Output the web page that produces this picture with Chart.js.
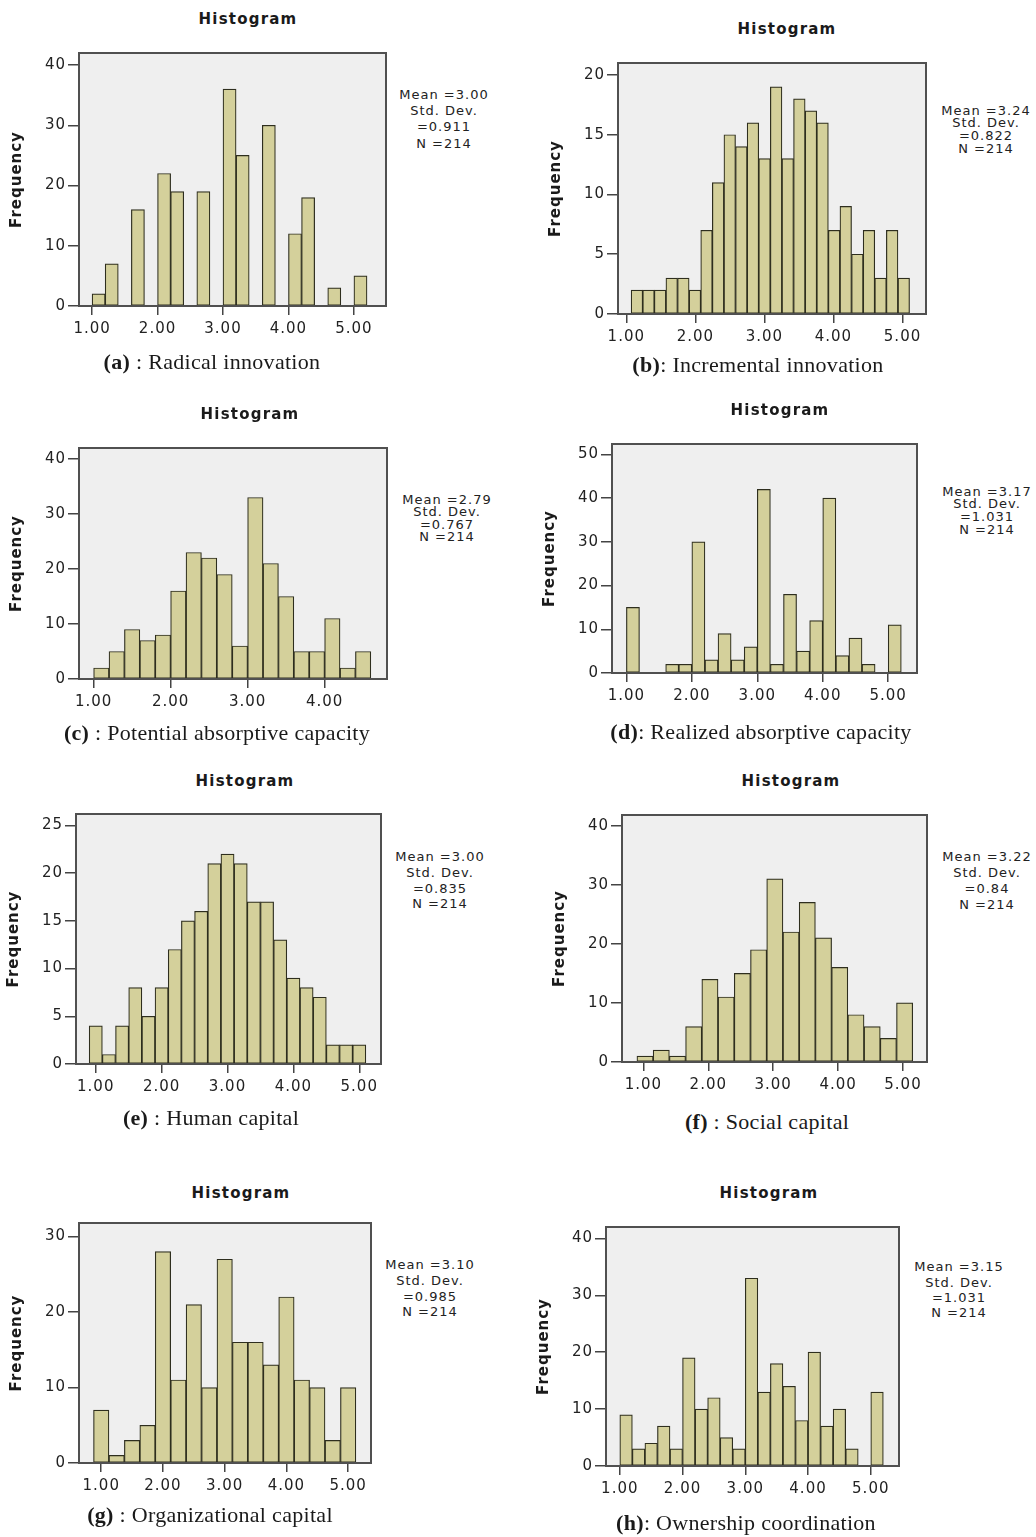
<!DOCTYPE html>
<html lang="en">
<head>
<meta charset="UTF-8" />
<title>Histograms</title>
<script src="https://cdn.jsdelivr.net/npm/chart.js"></script>
<style>
  body { margin: 0; background: #fff; }
  #page { position: relative; width: 1036px; height: 1537px; overflow: hidden; }
  canvas { position: absolute; }
  .title {
    position: absolute; transform: translate(-50%, -50%);
    font: bold 15px 'DejaVu Sans', sans-serif; letter-spacing: 1.2px;
    color: #1a1a1a; white-space: nowrap;
  }
  .stats {
    position: absolute; transform: translateX(-50%);
    font: 13px 'DejaVu Sans', sans-serif; letter-spacing: 1px;
    color: #222; text-align: center; white-space: nowrap;
  }
  .caption {
    position: absolute; transform: translate(-50%, -50%);
    font: 22px 'Liberation Serif', serif; letter-spacing: 0.3px;
    color: #1a1a1a; white-space: nowrap;
  }
</style>
</head>
<body>
<div id="page"></div>

<script>
  // bin counts (every one sums to N = 214)
  const radicalCounts = [2, 7, 0, 16, 0, 22, 19, 0, 19, 0, 36, 25, 0, 30, 0, 12, 18, 0, 3, 0, 5];
  const incrementalCounts = [2, 2, 2, 3, 3, 2, 7, 11, 15, 14, 16, 13, 19, 13, 18, 17, 16, 7, 9, 5, 7, 3, 7, 3];
  const potentialCounts = [2, 5, 9, 7, 8, 16, 23, 22, 19, 6, 33, 21, 15, 5, 5, 11, 2, 5];
  const realizedCounts = [15, 0, 0, 2, 2, 30, 3, 9, 3, 6, 42, 2, 18, 5, 12, 40, 4, 8, 2, 0, 11];
  const humanCounts = [4, 1, 4, 8, 5, 8, 12, 15, 16, 21, 22, 21, 17, 17, 13, 9, 8, 7, 2, 2, 2];
  const socialCounts = [1, 2, 1, 6, 14, 11, 15, 19, 31, 22, 27, 21, 16, 8, 6, 4, 10];
  const organizationalCounts = [7, 1, 3, 5, 28, 11, 21, 10, 27, 16, 16, 13, 22, 11, 10, 3, 10];
  const ownershipCounts = [9, 3, 4, 7, 3, 19, 10, 12, 5, 3, 33, 13, 18, 14, 8, 20, 7, 10, 3, 0, 13];

  // left edge of the first bin and bin width, per panel
  const binStart = [1.0, 1.07, 1.0, 1.0, 0.9, 0.9, 0.875, 1.0];
  const binWidth = [0.2, 0.168, 0.2, 0.2, 0.2, 0.25, 0.25, 0.2];

  const letters = ['(a)', '(b)', '(c)', '(d)', '(e)', '(f)', '(g)', '(h)'];
  const captions = [' : Radical innovation', ': Incremental innovation', ' : Potential absorptive capacity',
    ': Realized absorptive capacity', ' : Human capital', ' : Social capital',
    ' : Organizational capital', ': Ownership coordination'];
  const means = ['3.00', '3.24', '2.79', '3.17', '3.00', '3.22', '3.10', '3.15'];
  const stdDevs = ['0.911', '0.822', '0.767', '1.031', '0.835', '0.84', '0.985', '1.031'];
  const nCases = 214;

  // tick values
  const xTicks = [1, 2, 3, 4, 5];
  const xTicksShort = [1, 2, 3, 4];
  const yTicks20 = [0, 5, 10, 15, 20];
  const yTicks25 = [0, 5, 10, 15, 20, 25];
  const yTicks30 = [0, 10, 20, 30];
  const yTicks40 = [0, 10, 20, 30, 40];
  const yTicks50 = [0, 10, 20, 30, 40, 50];

  const allCounts = [radicalCounts, incrementalCounts, potentialCounts, realizedCounts,
    humanCounts, socialCounts, organizationalCounts, ownershipCounts];
  const allXTicks = [xTicks, xTicks, xTicksShort, xTicks, xTicks, xTicks, xTicks, xTicks];
  const allYTicks = [yTicks40, yTicks20, yTicks40, yTicks50, yTicks25, yTicks40, yTicks30, yTicks40];

  // page layout: plot frame [l, t, r, b], axis ranges, text anchors
  const layout = [
    { frame: [79, 53, 386, 306], x: [0.8, 5.49], yMax: 42, title: [248, 19], stats: [444, 95, 16.3], caption: [212, 362] },
    { frame: [618, 63, 926, 314], x: [0.88, 5.34], yMax: 21, title: [787, 29], stats: [986, 111, 12.7], caption: [758, 365] },
    { frame: [79, 448, 387, 679], x: [0.81, 4.81], yMax: 42, title: [250, 414], stats: [447, 500, 12.5], caption: [217, 733] },
    { frame: [612, 444, 917, 673], x: [0.78, 5.44], yMax: 52.4, title: [780, 410], stats: [987, 492, 12.7], caption: [761, 732] },
    { frame: [76, 814, 381, 1064], x: [0.70, 5.33], yMax: 26.2, title: [245, 781], stats: [440, 857, 15.7], caption: [211, 1118] },
    { frame: [622, 815, 927, 1062], x: [0.67, 5.37], yMax: 41.8, title: [791, 781], stats: [987, 857, 16], caption: [767, 1122] },
    { frame: [79, 1223, 371, 1463], x: [0.64, 5.37], yMax: 31.8, title: [241, 1193], stats: [430, 1265, 15.7], caption: [210, 1515] },
    { frame: [606, 1227, 899, 1466], x: [0.78, 5.45], yMax: 42, title: [769, 1193], stats: [959, 1267, 15.3], caption: [746, 1523] }
  ];

  const Y_AXIS_W = 75, X_AXIS_H = 45, PAD_T = 12, PAD_R = 12;

  Chart.defaults.font.family = "'DejaVu Sans', sans-serif";
  Chart.defaults.color = '#222';

  // grey plot background and dark frame, like SPSS output
  const framePlugin = {
    id: 'frame',
    beforeDraw(chart) {
      chart.ctx.letterSpacing = '1px';
    },
    beforeDatasetsDraw(chart) {
      const { ctx, chartArea: a } = chart;
      ctx.save();
      ctx.fillStyle = '#efefef';
      ctx.fillRect(a.left, a.top, a.width, a.height);
      ctx.restore();
    },
    afterDatasetsDraw(chart) {
      const { ctx, chartArea: a } = chart;
      ctx.save();
      ctx.strokeStyle = '#505050';
      ctx.lineWidth = 2;
      ctx.strokeRect(a.left, a.top, a.width, a.height);
      ctx.restore();
    }
  };

  const page = document.getElementById('page');

  function addText(cls, x, y, html) {
    const d = document.createElement('div');
    d.className = cls;
    d.style.left = x + 'px';
    d.style.top = y + 'px';
    d.innerHTML = html;
    page.appendChild(d);
    return d;
  }

  allCounts.forEach((counts, i) => {
    const L = layout[i];
    const [l, t, r, b] = L.frame;

    const canvas = document.createElement('canvas');
    const w = (r - l) + Y_AXIS_W + PAD_R;
    const h = (b - t) + PAD_T + X_AXIS_H;
    canvas.width = w;
    canvas.height = h;
    canvas.style.left = (l - Y_AXIS_W) + 'px';
    canvas.style.top = (t - PAD_T) + 'px';
    page.appendChild(canvas);

    const bars = counts.map((c, k) => ({
      x: +(binStart[i] + (k + 0.5) * binWidth[i]).toFixed(4),
      y: c
    }));
    const xt = allXTicks[i];
    const yt = allYTicks[i];

    new Chart(canvas.getContext('2d'), {
      type: 'bar',
      data: {
        datasets: [{
          data: bars,
          backgroundColor: '#d4d09b',
          borderColor: '#2e2e1e',
          borderWidth: 1.2,
          borderSkipped: false,
          barPercentage: 1,
          categoryPercentage: 1
        }]
      },
      options: {
        responsive: false,
        animation: false,
        devicePixelRatio: 1,
        layout: { padding: { left: 0, top: PAD_T, right: PAD_R, bottom: 0 } },
        plugins: { legend: { display: false }, tooltip: { enabled: false } },
        scales: {
          x: {
            type: 'linear',
            min: L.x[0],
            max: L.x[1],
            offset: false,
            afterBuildTicks: s => { s.ticks = xt.map(v => ({ value: v })); },
            afterFit: s => { s.height = X_AXIS_H; },
            ticks: {
              callback: v => v.toFixed(2),
              font: { size: 15 },
              color: '#222',
              padding: 5,
              maxRotation: 0,
              autoSkip: false
            },
            grid: { drawOnChartArea: false, offset: false, tickLength: 9, color: '#444', lineWidth: 1.5 },
            border: { display: false }
          },
          y: {
            min: 0,
            max: L.yMax,
            afterBuildTicks: s => { s.ticks = yt.map(v => ({ value: v })); },
            afterFit: s => { s.width = Y_AXIS_W; },
            ticks: { font: { size: 15 }, color: '#222', padding: 2 },
            grid: { drawOnChartArea: false, tickLength: 11, color: '#444', lineWidth: 1.5 },
            border: { display: false },
            title: {
              display: true,
              text: 'Frequency',
              color: '#1a1a1a',
              font: { size: 15, weight: 'bold' },
              padding: { top: 4, bottom: 0 }
            }
          }
        }
      },
      plugins: [framePlugin]
    });

    addText('title', L.title[0], L.title[1], 'Histogram');

    const [sx, sy, lh] = L.stats;
    const s = addText('stats', sx, sy - lh / 2,
      `Mean =${means[i]}<br>Std. Dev.<br>=${stdDevs[i]}<br>N =${nCases}`);
    s.style.lineHeight = lh + 'px';

    addText('caption', L.caption[0], L.caption[1], `<b>${letters[i]}</b>${captions[i]}`);
  });
</script>
</body>
</html>
